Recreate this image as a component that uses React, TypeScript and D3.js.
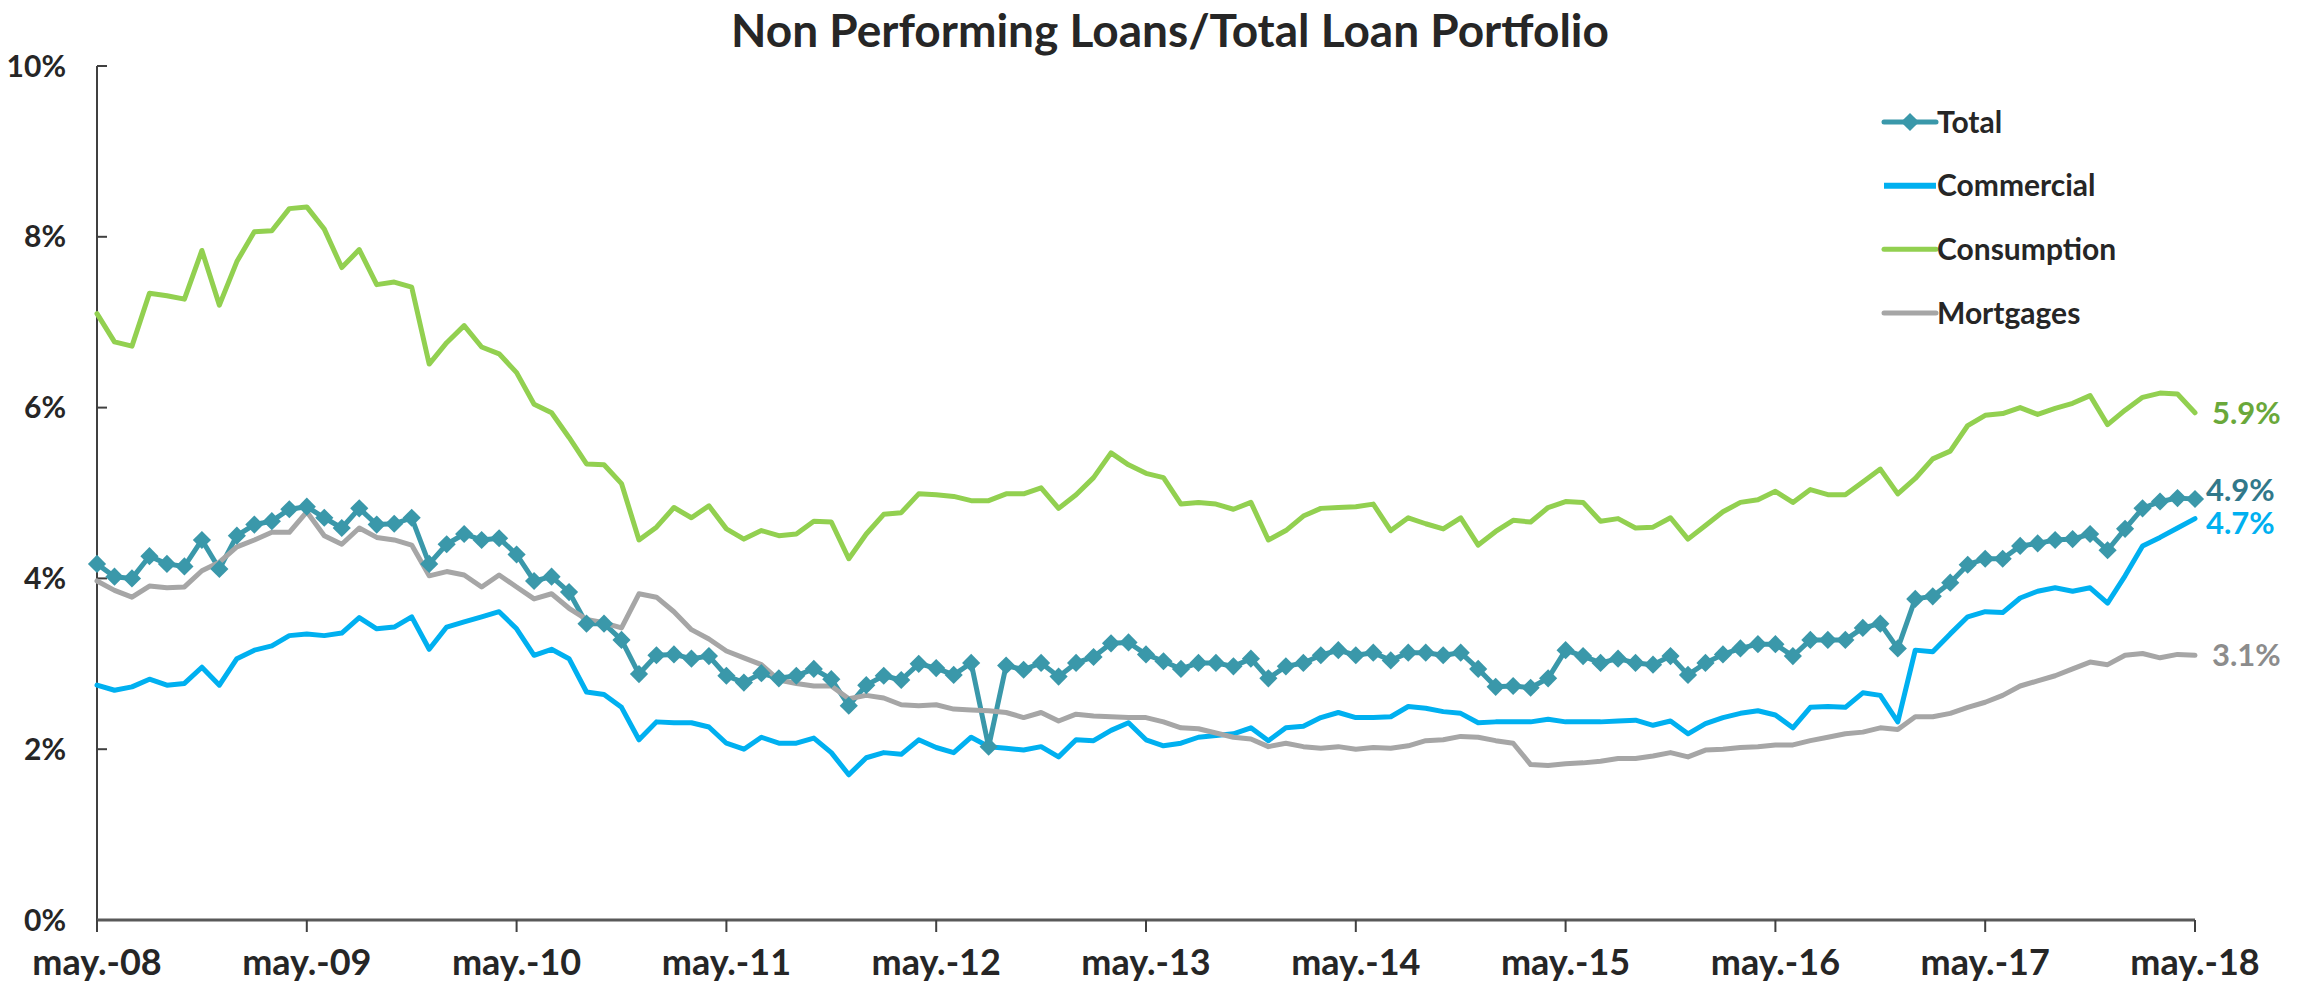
import React, { useEffect } from "react";
import * as d3 from "d3";

// monthly, may-08 .. may-18 (121 points), values in %
const tickLabels = [
  "may.-08", "may.-09", "may.-10", "may.-11", "may.-12", "may.-13",
  "may.-14", "may.-15", "may.-16", "may.-17", "may.-18",
];
const yTicks = [0, 2, 4, 6, 8, 10];

const total = [
  4.17, 4.02, 4.0, 4.26, 4.17, 4.14, 4.45, 4.11, 4.5, 4.63, 4.67, 4.81,
  4.84, 4.71, 4.59, 4.82, 4.63, 4.64, 4.71, 4.17, 4.4, 4.52, 4.45, 4.47,
  4.28, 3.97, 4.02, 3.84, 3.47, 3.47, 3.28, 2.88, 3.1, 3.11, 3.06, 3.09,
  2.86, 2.78, 2.89, 2.83, 2.86, 2.94, 2.82, 2.51, 2.75, 2.86, 2.81, 3.0,
  2.95, 2.87, 3.01, 2.03, 2.98, 2.93, 3.01, 2.85, 3.01, 3.08, 3.24, 3.25,
  3.11, 3.03, 2.94, 3.01, 3.01, 2.97, 3.06, 2.83, 2.97, 3.01, 3.1, 3.16,
  3.1, 3.13, 3.04, 3.13, 3.13, 3.1, 3.13, 2.94, 2.73, 2.74, 2.72, 2.83,
  3.16, 3.09, 3.01, 3.06, 3.01, 2.99, 3.09, 2.87, 3.01, 3.11, 3.18, 3.23,
  3.23, 3.09, 3.28, 3.28, 3.28, 3.42, 3.47, 3.18, 3.76, 3.79, 3.95, 4.16,
  4.23, 4.23, 4.38, 4.41, 4.45, 4.46, 4.52, 4.33, 4.58, 4.82, 4.9, 4.94,
  4.93,
];

const commercial = [
  2.75, 2.69, 2.73, 2.82, 2.75, 2.77, 2.96, 2.75, 3.06, 3.16, 3.21, 3.33,
  3.35, 3.33, 3.36, 3.54, 3.41, 3.43, 3.55, 3.17, 3.43, 3.49, 3.55, 3.61,
  3.41, 3.1, 3.17, 3.06, 2.67, 2.64, 2.49, 2.11, 2.32, 2.31, 2.31, 2.26,
  2.07, 2.0, 2.14, 2.07, 2.07, 2.13, 1.96, 1.7, 1.9, 1.96, 1.94, 2.11,
  2.02, 1.96, 2.14, 2.03, 2.01, 1.99, 2.03, 1.91, 2.11, 2.1, 2.22, 2.31,
  2.11, 2.04, 2.07, 2.14, 2.16, 2.18, 2.25, 2.1, 2.25, 2.27, 2.37, 2.43,
  2.37, 2.37, 2.38, 2.5, 2.48, 2.44, 2.42, 2.31, 2.32, 2.32, 2.32, 2.35,
  2.32, 2.32, 2.32, 2.33, 2.34, 2.28, 2.33, 2.18, 2.3, 2.37, 2.42, 2.45,
  2.4, 2.25, 2.49, 2.5, 2.49, 2.66, 2.63, 2.32, 3.16, 3.14, 3.35, 3.55,
  3.61, 3.6, 3.77, 3.85, 3.89, 3.85, 3.89, 3.71, 4.03, 4.38, 4.48, 4.59,
  4.7,
];

const consumption = [
  7.1, 6.77, 6.72, 7.34, 7.31, 7.27, 7.84, 7.2, 7.71, 8.06, 8.07, 8.33,
  8.35, 8.09, 7.64, 7.85, 7.44, 7.47, 7.41, 6.51, 6.76, 6.96, 6.71, 6.63,
  6.41, 6.04, 5.94, 5.65, 5.34, 5.33, 5.11, 4.45, 4.6, 4.83, 4.71, 4.85,
  4.58, 4.46, 4.56, 4.5, 4.52, 4.67, 4.66, 4.23, 4.52, 4.75, 4.77, 4.99,
  4.98, 4.96, 4.91, 4.91, 4.99, 4.99, 5.06, 4.82, 4.98, 5.18, 5.47, 5.33,
  5.23, 5.18, 4.87, 4.89, 4.87, 4.81, 4.89, 4.45, 4.56, 4.73, 4.82, 4.83,
  4.84, 4.87, 4.56, 4.71, 4.64, 4.58, 4.71, 4.39, 4.55, 4.68, 4.66, 4.83,
  4.9, 4.89, 4.67, 4.7, 4.59, 4.6, 4.71, 4.46, 4.62, 4.78, 4.89, 4.92,
  5.02, 4.89, 5.04, 4.98, 4.98, 5.13, 5.28, 4.99, 5.17, 5.4, 5.49, 5.79,
  5.91, 5.93, 6.0, 5.92, 5.99, 6.05, 6.14, 5.8, 5.97, 6.12, 6.17, 6.16,
  5.94,
];

const mortgages = [
  3.97, 3.86, 3.78, 3.91, 3.89, 3.9, 4.09, 4.19, 4.37, 4.45, 4.54, 4.54,
  4.78, 4.5, 4.4, 4.59, 4.48, 4.45, 4.39, 4.03, 4.08, 4.04, 3.9, 4.04,
  3.9, 3.76, 3.82, 3.65, 3.52, 3.48, 3.42, 3.82, 3.78, 3.61, 3.4, 3.29,
  3.15, 3.07, 2.99, 2.81, 2.77, 2.74, 2.74, 2.59, 2.63, 2.6, 2.52, 2.51,
  2.52, 2.47, 2.46, 2.45, 2.43, 2.37, 2.43, 2.33, 2.41, 2.39, 2.38, 2.37,
  2.37, 2.32, 2.25, 2.24, 2.19, 2.14, 2.12, 2.03, 2.07, 2.03, 2.01, 2.03,
  2.0, 2.02, 2.01, 2.04, 2.1, 2.11, 2.15, 2.14, 2.1, 2.07, 1.82, 1.81,
  1.83, 1.84, 1.86, 1.89, 1.89, 1.92, 1.96, 1.91, 1.99, 2.0, 2.02, 2.03,
  2.05, 2.05, 2.1, 2.14, 2.18, 2.2, 2.25, 2.23, 2.38, 2.38, 2.42, 2.49,
  2.55, 2.63, 2.74, 2.8, 2.86, 2.94, 3.02, 2.99, 3.1, 3.12, 3.07, 3.11,
  3.1,
];

const seriesNames = ["Total", "Commercial", "Consumption", "Mortgages"];
const seriesData = [total, commercial, consumption, mortgages];
const lineColors = ["#3a98aa", "#00b0f0", "#92d050", "#a6a6a6"];
const labelColors = ["#31788a", "#00b0f0", "#6aa83a", "#8c8c8c"];
const labelNudge = [-9, 5, 0, 0];
const labelDx = [11, 11, 17, 17];

const W = 2308;
const H = 986;
const FONT = "Lato, 'Open Sans', sans-serif";

export default function App() {
  useEffect(() => {
    document.body.style.margin = "0";
  }, []);

  const x = d3.scaleLinear().domain([0, 120]).range([97, 2195]);
  const y = d3.scaleLinear().domain([0, 10]).range([920, 66]);
  const line = d3
    .line<number>()
    .x((d, i) => x(i))
    .y((d) => y(d));
  const diamond = d3.symbol().type(d3.symbolSquare).size(165);
  const fmt = d3.format(".1f");

  const legendY = d3.scalePoint<string>().domain(seriesNames).range([122, 313]);

  return (
    <svg width={W} height={H} style={{ display: "block", background: "#fff" }} fontFamily={FONT}>
      <text
        x={1170}
        y={47}
        textAnchor="middle"
        fontSize={46}
        fontWeight="bold"
        fill="#262626"
      >
        Non Performing Loans/Total Loan Portfolio
      </text>

      {/* y axis */}
      <line x1={x(0)} x2={x(0)} y1={y(10)} y2={y(0)} stroke="#404040" strokeWidth={2} />
      {yTicks.map((t) => (
        <g key={t}>
          <line x1={x(0)} x2={x(0) + 10} y1={y(t)} y2={y(t)} stroke="#404040" strokeWidth={2} />
          <text
            x={66}
            y={y(t)}
            dy="0.35em"
            textAnchor="end"
            fontSize={30}
            fontWeight="bold"
            fill="#262626"
          >
            {t}%
          </text>
        </g>
      ))}

      {/* x axis */}
      <line x1={x(0)} x2={x(120)} y1={y(0)} y2={y(0)} stroke="#595959" strokeWidth={3} />
      {tickLabels.map((lab, i) => (
        <g key={lab}>
          <line x1={x(i * 12)} x2={x(i * 12)} y1={y(0)} y2={y(0) + 12} stroke="#404040" strokeWidth={2} />
          <text
            x={x(i * 12)}
            y={975}
            textAnchor="middle"
            fontSize={36}
            fontWeight="bold"
            fill="#262626"
          >
            {lab}
          </text>
        </g>
      ))}

      {/* series */}
      {seriesData.map((d, s) => (
        <path
          key={seriesNames[s]}
          d={line(d) || ""}
          fill="none"
          stroke={lineColors[s]}
          strokeWidth={5}
          strokeLinejoin="round"
          strokeLinecap="round"
        />
      ))}
      {total.map((v, i) => (
        <path
          key={i}
          d={diamond() || ""}
          transform={`translate(${x(i)},${y(v)}) rotate(45)`}
          fill={lineColors[0]}
        />
      ))}

      {/* end labels */}
      {seriesData.map((d, s) => (
        <text
          key={seriesNames[s]}
          x={x(120) + labelDx[s]}
          y={y(d[d.length - 1]) + labelNudge[s]}
          dy="0.35em"
          fontSize={31}
          fontWeight="bold"
          fill={labelColors[s]}
        >
          {fmt(Math.floor(d[d.length - 1] * 10) / 10)}%
        </text>
      ))}

      {/* legend */}
      {seriesNames.map((name, s) => (
        <g key={name} transform={`translate(0,${legendY(name)})`}>
          <line
            x1={1884}
            x2={1936}
            y1={0}
            y2={0}
            stroke={lineColors[s]}
            strokeWidth={s === 1 ? 6 : 5}
            strokeLinecap={s === 1 ? "butt" : "round"}
          />
          {s === 0 && (
            <path d={diamond() || ""} transform="translate(1910,0) rotate(45)" fill={lineColors[0]} />
          )}
          <text x={1937} y={0} dy="0.35em" fontSize={30} fontWeight="bold" fill="#262626">
            {name}
          </text>
        </g>
      ))}
    </svg>
  );
}
